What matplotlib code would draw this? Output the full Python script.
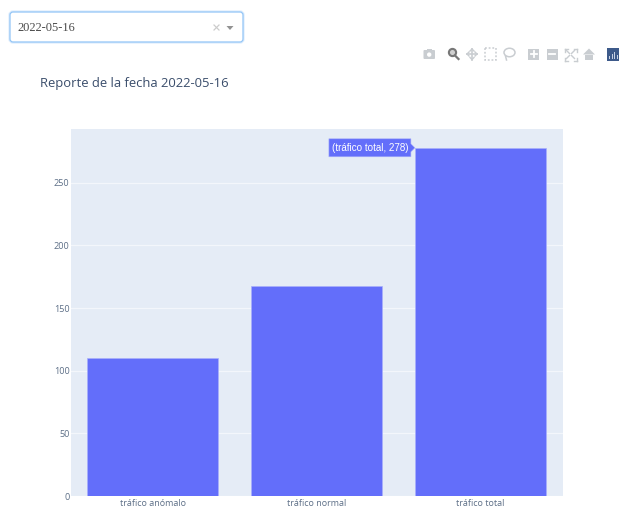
import matplotlib
matplotlib.use('Agg')
import matplotlib.pyplot as plt
from matplotlib.patches import Rectangle, FancyBboxPatch, Polygon, Circle, Ellipse

categories = ['tráfico anómalo', 'tráfico normal', 'tráfico total']
values = [110, 168, 278]
y_ticks = [0, 50, 100, 150, 200, 250]
fecha = '2022-05-16'

W, H = 619, 507
BAR = '#636efa'
ICON = '#c9cdd1'
TICK = '#5d6f87'

fig = plt.figure(figsize=(W / 100, H / 100), dpi=100, facecolor='white')

# plot area, placed in pixels
left, right, top, bottom = 71, 563, 129, 496
ax = fig.add_axes([left / W, 1 - bottom / H, (right - left) / W, (bottom - top) / H])
ax.set_facecolor('#e5ecf6')
ax.bar(categories, values, width=0.795, color=BAR, edgecolor='#a9b0fb', linewidth=0.5, zorder=3)
ax.set_xlim(-0.497, 2.503)
ax.set_ylim(0, 293)
ax.set_yticks(y_ticks)
ax.grid(axis='y', color='#f3f6fb', linewidth=0.9, zorder=1)
ax.grid(axis='x', visible=False)
ax.spines[:].set_visible(False)
ax.tick_params(length=0)
ax.tick_params(axis='y', labelsize=6.6, labelcolor=TICK, pad=1)
ax.tick_params(axis='x', labelsize=6.5, labelcolor=TICK, pad=2.5)
for lab in ax.get_xticklabels() + ax.get_yticklabels():
    lab.set_family('Open Sans')

# overlay in pixel coordinates for the page controls
ui = fig.add_axes([0, 0, 1, 1], facecolor='none')
ui.set_xlim(0, W)
ui.set_ylim(H, 0)
ui.axis('off')

# dropdown
ui.add_patch(FancyBboxPatch((10, 12), 233, 30, boxstyle='round,pad=0,rounding_size=3',
                            fc='white', ec='#e0eefd', lw=2.4))
ui.add_patch(FancyBboxPatch((10, 12), 233, 30, boxstyle='round,pad=0,rounding_size=3',
                            fc='white', ec='#93c5f6', lw=0.9))
ui.text(17, 28.2, fecha, family='Liberation Serif', fontsize=8.9, color='#4a4a4a', va='center')
ui.plot([214, 219], [25, 30], color='#cccccc', lw=0.9)
ui.plot([214, 219], [30, 25], color='#cccccc', lw=0.9)
ui.add_patch(Polygon([(226.5, 26), (233.5, 26), (230, 30), ], fc='#929292', ec='none'))

# title
ui.text(40, 83, 'Reporte de la fecha ' + fecha, family='Open Sans', fontsize=9.4,
        color='#3a4d6b', va='center')

# modebar: camera
ui.add_patch(FancyBboxPatch((423.5, 50), 11.5, 9, boxstyle='round,pad=0,rounding_size=1', fc=ICON, ec='none'))
ui.add_patch(Rectangle((426.5, 48.5), 5, 2, fc=ICON, ec='none'))
ui.add_patch(Circle((429.2, 54.6), 2.2, fc='white', ec='none'))
# zoom (active)
ui.add_patch(Circle((452.5, 52.5), 3.6, fc='#d0d0d0', ec='#777777', lw=1.5))
ui.plot([455, 458.5], [55.5, 59], color='#777777', lw=1.6)
# pan
ui.plot([467, 477], [54, 54], color=ICON, lw=1.2)
ui.plot([472, 472], [49, 59.5], color=ICON, lw=1.2)
for ax_, ay_, bx_, by_ in [(467, 54, 469, 52), (467, 54, 469, 56), (477, 54, 475, 52), (477, 54, 475, 56),
                           (472, 49, 470, 51), (472, 49, 474, 51), (472, 59.5, 470, 57.5), (472, 59.5, 474, 57.5)]:
    ui.plot([ax_, bx_], [ay_, by_], color=ICON, lw=1)
# box select
ui.add_patch(Rectangle((485, 48), 11, 12, fc='none', ec=ICON, lw=1.1, ls=(0, (1.2, 1.2))))
# lasso
ui.add_patch(Ellipse((509.5, 52.5), 11, 8.5, fc='none', ec=ICON, lw=1.1))
ui.plot([505.5, 506.5], [56, 60], color=ICON, lw=1.1)
# zoom in / zoom out
ui.add_patch(Rectangle((528, 48.5), 11, 11, fc=ICON, ec='none'))
ui.plot([530.5, 536.5], [54, 54], color='white', lw=1.3)
ui.plot([533.5, 533.5], [51, 57], color='white', lw=1.3)
ui.add_patch(Rectangle((546.5, 48.5), 11, 11, fc=ICON, ec='none'))
ui.plot([549, 555], [54, 54], color='white', lw=1.3)
# autoscale
for sx, sy in [(-1, -1), (1, -1), (-1, 1), (1, 1)]:
    cx, cy = 570.5 + sx * 6, 54.5 + sy * 6
    ui.plot([cx, cx - sx * 3], [cy, cy], color=ICON, lw=1)
    ui.plot([cx, cx], [cy, cy - sy * 3], color=ICON, lw=1)
    ui.plot([cx - sx * 2, cx - sx * 5], [cy - sy * 2, cy - sy * 5], color=ICON, lw=1)
# home
ui.add_patch(Polygon([(583, 54.5), (589, 48.5), (595, 54.5)], fc=ICON, ec='none'))
ui.add_patch(Rectangle((585, 54.5), 8, 5.5, fc=ICON, ec='none'))
# plotly logo
ui.add_patch(Rectangle((607, 48), 12, 13, fc='#3d5a8a', ec='none'))
for bx, bh in [(609, 3), (611.5, 5), (614, 7), (616.5, 4)]:
    ui.add_patch(Rectangle((bx, 59 - bh), 1.4, bh, fc='#c6d0e2', ec='none'))

# hover label on the tallest bar, anchored to its top left corner
tip_x, tip_y = ui.transData.inverted().transform(ax.transData.transform((2 - 0.4, values[2])))
ui.add_patch(Polygon([(tip_x, tip_y), (tip_x - 4, tip_y - 4), (tip_x - 4, tip_y - 9),
                      (tip_x - 86, tip_y - 9), (tip_x - 86, tip_y + 9),
                      (tip_x - 4, tip_y + 9), (tip_x - 4, tip_y + 4)],
                     fc=BAR, ec='#a9b0fb', lw=0.4, zorder=5))
ui.text(tip_x - 45, tip_y, '(%s, %d)' % (categories[2], values[2]), family='Liberation Sans',
        fontsize=7.1, color='white', ha='center', va='center', zorder=6)

fig.savefig('out.png', dpi=100)
